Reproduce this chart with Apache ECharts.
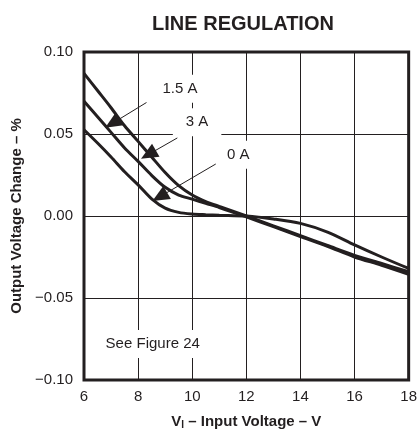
<!DOCTYPE html>
<html>
<head>
<meta charset="utf-8">
<script src="https://cdn.jsdelivr.net/npm/echarts@6/dist/echarts.min.js"></script>
<style>
html,body{margin:0;padding:0;background:#fff;}
#chart{width:420px;height:435px;}
</style>
</head>
<body>
<div id="chart"></div>
<script>
// Input voltage (V)
const xValues = [6, 6.5, 7, 7.5, 8, 8.5, 9, 9.5, 10, 10.5, 11, 12, 13, 14, 15, 16, 17, 18];
// Output voltage change (%) per load current
const series15A = [0.087, 0.0765, 0.066, 0.055, 0.0455, 0.036, 0.0265, 0.0185, 0.0128, 0.0088, 0.0058, 0.0, -0.006, -0.012, -0.018, -0.024, -0.029, -0.034];
const series3A  = [0.070, 0.0605, 0.051, 0.0415, 0.0333, 0.0248, 0.0175, 0.0128, 0.0103, 0.0077, 0.0052, -0.0005, -0.0065, -0.0125, -0.0185, -0.025, -0.030, -0.0355];
const series0A  = [0.0526, 0.0445, 0.036, 0.027, 0.019, 0.0105, 0.0048, 0.0022, 0.0012, 0.0008, 0.0005, 0.0, -0.0018, -0.0045, -0.0098, -0.0176, -0.025, -0.032];
const seriesNames = ['1.5 A', '3 A', '0 A'];
const xTicks = [6, 8, 10, 12, 14, 16, 18];
const yTicks = [-0.10, -0.05, 0.00, 0.05, 0.10];

// Annotations (data coordinates)
const annotationTexts = ['1.5 A', '3 A', '0 A', 'See Figure 24'];
const annotationX = [9.55, 10.18, 11.7, 8.54];
const annotationY = [0.0776, 0.0571, 0.0374, -0.078];
const arrowFromX = [8.31, 9.45, 10.87];
const arrowFromY = [0.0692, 0.0476, 0.0317];
const arrowToX = [7.05, 8.38, 8.80];
const arrowToY = [0.0565, 0.0375, 0.0117];

const INK = '#231f20';
const FONT = '"Liberation Sans", Arial, sans-serif';
const LABEL_SIZE = 15;

function pairs(ys) { return xValues.map((x, i) => [x, ys[i]]); }

const measureCtx = document.createElement('canvas').getContext('2d');
measureCtx.font = LABEL_SIZE + 'px ' + FONT;
function textWidth(t) { return measureCtx.measureText(t).width; }

const chart = echarts.init(document.getElementById('chart'), null, {renderer: 'canvas'});

const curveSeries = [series15A, series3A, series0A].map((ys, i) => ({
  name: seriesNames[i],
  type: 'line',
  data: pairs(ys),
  smooth: 0.3,
  showSymbol: false,
  symbol: 'none',
  z: 3,
  lineStyle: {color: INK, width: 3},
  silent: true
}));

const option = {
  animation: false,
  backgroundColor: '#fff',
  title: {
    text: 'LINE REGULATION',
    left: 238,
    textAlign: 'center',
    top: 9,
    textStyle: {fontFamily: FONT, fontWeight: 'bold', fontSize: 20, color: INK}
  },
  grid: {
    left: 84, right: 7, top: 52, bottom: 55,
    show: true, borderColor: INK, borderWidth: 3, backgroundColor: 'transparent'
  },
  xAxis: {
    type: 'value',
    min: xTicks[0], max: xTicks[xTicks.length - 1], interval: 2,
    axisLine: {show: false},
    axisTick: {show: false},
    splitLine: {show: true, lineStyle: {color: INK, width: 1}},
    axisLabel: {color: INK, fontFamily: FONT, fontSize: 15, margin: 9},
    name: '{b|V}{s|I}{b| – Input Voltage – V}',
    nameLocation: 'middle',
    nameGap: 34,
    nameTextStyle: {
      rich: {
        b: {fontFamily: FONT, fontWeight: 'bold', fontSize: 15, color: INK},
        s: {fontFamily: FONT, fontWeight: 'bold', fontSize: 10, color: INK, verticalAlign: 'bottom', padding: [6, 0, 0, 0]}
      }
    }
  },
  yAxis: {
    type: 'value',
    min: yTicks[0], max: yTicks[yTicks.length - 1], interval: 0.05,
    axisLine: {show: false},
    axisTick: {show: false},
    splitLine: {show: true, lineStyle: {color: INK, width: 1}},
    axisLabel: {
      color: INK, fontFamily: FONT, fontSize: 15, margin: 11,
      formatter: v => (v < 0 ? '\u2212' : '') + Math.abs(v).toFixed(2)
    },
    name: 'Output Voltage Change – %',
    nameLocation: 'middle',
    nameGap: 53,
    nameTextStyle: {fontFamily: FONT, fontWeight: 'bold', fontSize: 15, color: INK}
  },
  series: [
    {
      type: 'scatter',
      z: 1,
      silent: true,
      symbol: 'rect',
      symbolSize: (val, p) => [textWidth(p.name) + 26, LABEL_SIZE + 13],
      itemStyle: {color: '#fff', opacity: 1},
      data: annotationTexts.map((t, i) => ({value: [annotationX[i], annotationY[i]], name: t})),
      label: {
        show: true,
        position: 'inside',
        formatter: p => p.name,
        fontFamily: FONT, fontSize: LABEL_SIZE, color: INK
      },
      labelLayout: {hideOverlap: false}
    },
    ...curveSeries,
    {
      type: 'line',
      data: [],
      z: 4,
      silent: true,
      markLine: {
        silent: true,
        animation: false,
        symbol: ['none', 'triangle'],
        symbolSize: [15, 17],
        label: {show: false},
        lineStyle: {color: INK, width: 1, type: 'solid'},
        emphasis: {disabled: true},
        data: arrowFromX.map((x, i) => [
          {coord: [x, arrowFromY[i]]},
          {coord: [arrowToX[i], arrowToY[i]]}
        ])
      }
    }
  ]
};

chart.setOption(option);
</script>
</body>
</html>
